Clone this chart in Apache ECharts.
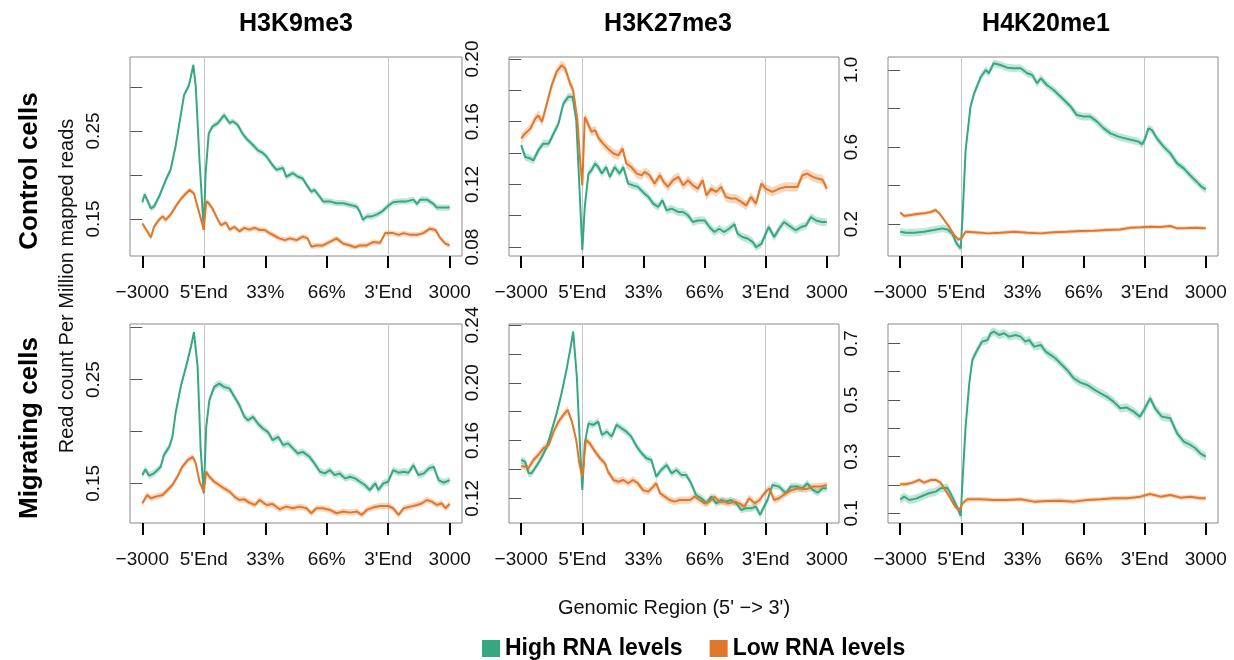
<!DOCTYPE html>
<html><head><meta charset="utf-8">
<script src="https://cdn.jsdelivr.net/npm/echarts@6/dist/echarts.min.js"></script>
<style>html,body{margin:0;padding:0;background:#fff}#c{width:1234px;height:660px}</style>
</head><body><div id="c"></div>
<script>
// ---------- labels ----------
const xTickValues = [0, 1, 2, 3, 4, 5];
const xTickLabels = ['\u22123000', "5'End", '33%', '66%', "3'End", '3000'];
const markNames = ['H3K9me3', 'H3K27me3', 'H4K20me1'];
const rowNames = ['Control cells', 'Migrating cells'];
const seriesNames = ['High RNA levels', 'Low RNA levels'];
const yAxisTitle = 'Read count Per Million mapped reads';
const xAxisTitle = "Genomic Region (5' \u2212> 3')";

// ---------- y axes (panel order: ctrl K9, ctrl K27, ctrl K20, mig K9, mig K27, mig K20) ----------
const yMin = [0.108, 0.0743, 0.034, 0.1118, 0.1029, 0.0658];
const yMax = [0.334, 0.2013, 1.0675, 0.3036, 0.2407, 0.768];
const yTicks = [
  [0.15, 0.20, 0.25, 0.30],
  [0.08, 0.10, 0.12, 0.14, 0.16, 0.18, 0.20],
  [0.2, 0.4, 0.6, 0.8, 1.0],
  [0.15, 0.20, 0.25, 0.30],
  [0.12, 0.14, 0.16, 0.18, 0.20, 0.22, 0.24],
  [0.1, 0.2, 0.3, 0.4, 0.5, 0.6, 0.7]
];
const yLabels = [
  [0.15, 0.25],
  [0.08, 0.12, 0.16, 0.20],
  [0.2, 0.6, 1.0],
  [0.15, 0.25],
  [0.12, 0.16, 0.20, 0.24],
  [0.1, 0.3, 0.5, 0.7]
];
const yDecimals = [2, 2, 1, 2, 2, 1];

// ---------- series data: [position, value] ----------
const ctrlK9High = [[0,.169],[.04,.178],[.14,.162],[.19,.164],[.27,.175],[.38,.194],[.46,.206],[.54,.232],[.63,.270],[.68,.291],[.76,.302],[.83,.325],[.87,.300],[.93,.217],[1.0,.1375],[1.03,.202],[1.08,.247],[1.14,.255],[1.23,.259],[1.33,.268],[1.42,.259],[1.47,.261],[1.55,.257],[1.63,.247],[1.71,.240],[1.80,.234],[1.88,.228],[1.96,.225],[2.02,.221],[2.10,.213],[2.18,.206],[2.29,.208],[2.34,.198],[2.45,.202],[2.53,.198],[2.61,.196],[2.67,.189],[2.75,.181],[2.80,.183],[2.89,.175],[2.94,.170],[3.05,.170],[3.16,.168],[3.27,.168],[3.38,.166],[3.49,.164],[3.54,.158],[3.59,.149],[3.65,.153],[3.73,.153],[3.81,.155],[3.89,.158],[4.0,.165],[4.08,.169],[4.19,.170],[4.30,.170],[4.41,.172],[4.47,.167],[4.52,.172],[4.63,.172],[4.74,.167],[4.79,.163],[4.90,.163],[5.0,.163]];
const ctrlK9Low = [[0,.145],[.08,.136],[.14,.129],[.19,.141],[.27,.149],[.33,.153],[.38,.149],[.46,.155],[.54,.164],[.63,.173],[.71,.179],[.77,.183],[.84,.179],[.93,.156],[1.0,.138],[1.04,.170],[1.08,.168],[1.14,.162],[1.23,.149],[1.28,.143],[1.36,.146],[1.42,.138],[1.50,.141],[1.58,.136],[1.66,.140],[1.74,.138],[1.83,.140],[1.91,.1375],[1.99,.1375],[2.07,.134],[2.15,.131],[2.23,.128],[2.32,.126],[2.40,.128],[2.51,.126],[2.61,.130],[2.69,.128],[2.75,.1186],[2.83,.120],[2.94,.120],[3.05,.124],[3.16,.128],[3.27,.122],[3.38,.120],[3.46,.118],[3.54,.120],[3.65,.120],[3.76,.124],[3.87,.123],[3.95,.134],[4.0,.134],[4.08,.134],[4.17,.132],[4.25,.134],[4.36,.132],[4.47,.132],[4.57,.134],[4.68,.139],[4.77,.1375],[4.85,.128],[4.93,.122],[5.0,.120]];

const ctrlK27High = [[0,.145],[.065,.1375],[.15,.1365],[.20,.1354],[.28,.1418],[.36,.146],[.45,.146],[.53,.1525],[.61,.1588],[.69,.1716],[.77,.1759],[.84,.1759],[.90,.161],[.95,.1205],[1.0,.078],[1.04,.1056],[1.10,.1269],[1.15,.129],[1.21,.1333],[1.26,.1311],[1.32,.1269],[1.39,.1311],[1.45,.1248],[1.53,.1311],[1.61,.1269],[1.67,.1311],[1.75,.1205],[1.83,.1194],[1.91,.1184],[1.99,.1152],[2.08,.112],[2.16,.1077],[2.24,.1056],[2.31,.1098],[2.38,.1034],[2.46,.1045],[2.57,.1024],[2.65,.1024],[2.73,.1002],[2.81,.096],[2.89,.097],[3.0,.097],[3.08,.0928],[3.16,.0896],[3.24,.0917],[3.32,.0896],[3.40,.0917],[3.49,.0945],[3.54,.0885],[3.62,.0864],[3.71,.0853],[3.79,.0832],[3.84,.080],[3.93,.0821],[4.0,.0885],[4.05,.0928],[4.14,.0864],[4.22,.0917],[4.30,.096],[4.38,.0938],[4.49,.0907],[4.58,.0928],[4.66,.0938],[4.74,.0992],[4.82,.097],[4.92,.096],[5.0,.096]];
const ctrlK27Low = [[0,.1493],[.065,.1525],[.15,.1556],[.23,.162],[.28,.164],[.34,.160],[.42,.1716],[.50,.1834],[.58,.1919],[.66,.196],[.72,.194],[.80,.1844],[.85,.180],[.92,.161],[.96,.1375],[1.0,.1194],[1.04,.163],[1.10,.158],[1.15,.1535],[1.21,.1546],[1.26,.150],[1.34,.146],[1.42,.1428],[1.51,.1397],[1.59,.1386],[1.66,.1428],[1.72,.1333],[1.80,.1311],[1.89,.1269],[1.97,.1258],[2.02,.128],[2.10,.1258],[2.18,.1205],[2.27,.1258],[2.33,.1216],[2.40,.1184],[2.48,.1226],[2.57,.1248],[2.65,.1194],[2.73,.1226],[2.81,.1194],[2.89,.1173],[2.97,.1226],[3.03,.113],[3.11,.1173],[3.19,.1152],[3.27,.1184],[3.35,.112],[3.43,.111],[3.51,.111],[3.60,.1088],[3.68,.1066],[3.76,.112],[3.84,.1077],[3.93,.1205],[4.0,.1173],[4.11,.1152],[4.22,.1173],[4.33,.1184],[4.43,.1184],[4.52,.1184],[4.60,.1258],[4.68,.1269],[4.77,.1248],[4.85,.1237],[4.93,.123],[5.0,.1173]];

const ctrlK20High = [[0,.160],[.09,.155],[.23,.155],[.39,.160],[.55,.169],[.69,.1775],[.77,.172],[.85,.1515],[.92,.0996],[.99,.0736],[1.02,.238],[1.07,.584],[1.15,.81],[1.21,.879],[1.32,.965],[1.40,1.0],[1.45,.983],[1.53,1.035],[1.64,1.026],[1.75,1.012],[1.86,1.009],[1.97,1.009],[2.08,.983],[2.16,.974],[2.24,.931],[2.30,.957],[2.40,.922],[2.51,.896],[2.65,.853],[2.79,.81],[2.89,.766],[3.0,.758],[3.11,.758],[3.22,.732],[3.33,.697],[3.44,.671],[3.57,.654],[3.68,.645],[3.79,.636],[3.90,.628],[3.96,.614],[4.01,.645],[4.06,.697],[4.12,.688],[4.20,.645],[4.31,.602],[4.42,.567],[4.53,.515],[4.64,.489],[4.74,.4545],[4.85,.42],[4.93,.394],[5.0,.380]];
const ctrlK20Low = [[0,.2606],[.065,.2416],[.17,.2468],[.28,.252],[.39,.2554],[.50,.2623],[.58,.2727],[.64,.2554],[.72,.2208],[.80,.186],[.88,.143],[.95,.120],[1.0,.1255],[1.07,.160],[1.21,.157],[1.43,.1515],[1.64,.155],[1.86,.160],[2.08,.155],[2.30,.1515],[2.51,.157],[2.73,.160],[2.95,.1636],[3.17,.1654],[3.38,.169],[3.60,.172],[3.76,.181],[3.93,.1827],[4.09,.186],[4.26,.184],[4.42,.1896],[4.53,.1775],[4.69,.179],[4.85,.181],[5.0,.1775]];

const migK9High = [[0,.158],[.05,.1635],[.11,.1574],[.19,.1596],[.30,.166],[.35,.1772],[.44,.1853],[.49,.1949],[.54,.2173],[.63,.2446],[.71,.2622],[.79,.2814],[.84,.2958],[.90,.2622],[.95,.182],[1.0,.1404],[1.04,.2045],[1.09,.230],[1.17,.243],[1.25,.2462],[1.33,.243],[1.42,.2413],[1.50,.2333],[1.58,.2253],[1.66,.2141],[1.72,.2109],[1.80,.2141],[1.88,.2077],[1.96,.2029],[2.04,.1997],[2.12,.1917],[2.21,.1949],[2.29,.1869],[2.37,.1885],[2.45,.1837],[2.53,.1788],[2.61,.1804],[2.72,.1756],[2.80,.1692],[2.89,.1612],[2.97,.1596],[3.05,.1628],[3.13,.158],[3.21,.1596],[3.30,.1548],[3.38,.1564],[3.46,.1548],[3.54,.1516],[3.62,.1484],[3.70,.1436],[3.79,.150],[3.84,.1436],[3.92,.150],[4.0,.1516],[4.08,.1628],[4.17,.1603],[4.25,.1612],[4.33,.1603],[4.41,.1676],[4.49,.158],[4.58,.1596],[4.66,.1644],[4.74,.166],[4.82,.1532],[4.90,.1506],[5.0,.1532]];
const migK9Low = [[0,.1308],[.08,.1388],[.14,.1356],[.22,.1372],[.33,.1388],[.41,.1436],[.49,.1484],[.57,.1564],[.65,.166],[.74,.1724],[.82,.1756],[.87,.1692],[.93,.1516],[1.0,.142],[1.04,.1612],[1.09,.1564],[1.17,.1516],[1.25,.1484],[1.33,.1452],[1.42,.142],[1.50,.1372],[1.58,.134],[1.66,.1346],[1.74,.1314],[1.83,.1292],[1.91,.134],[2.02,.1292],[2.12,.1301],[2.23,.125],[2.34,.1276],[2.45,.126],[2.56,.1276],[2.67,.126],[2.75,.1212],[2.83,.126],[2.94,.126],[3.05,.1244],[3.16,.1212],[3.27,.1228],[3.38,.1218],[3.49,.1228],[3.57,.1196],[3.65,.1244],[3.76,.1269],[3.87,.1282],[4.0,.1282],[4.08,.126],[4.17,.1196],[4.25,.126],[4.36,.1276],[4.47,.1292],[4.55,.1308],[4.63,.134],[4.71,.1324],[4.79,.1292],[4.87,.1308],[4.93,.126],[5.0,.1301]];

const migK27High = [[0,.1465],[.065,.1454],[.12,.1373],[.17,.1373],[.26,.1431],[.34,.1488],[.42,.1558],[.50,.1673],[.58,.1788],[.66,.1927],[.74,.2088],[.81,.225],[.85,.2354],[.91,.2042],[.96,.158],[1.0,.1258],[1.04,.158],[1.10,.1719],[1.18,.1708],[1.26,.1731],[1.32,.1638],[1.40,.1662],[1.48,.1627],[1.56,.1708],[1.64,.1685],[1.72,.1662],[1.80,.1627],[1.89,.1558],[1.97,.1512],[2.05,.1477],[2.13,.1465],[2.21,.135],[2.29,.1396],[2.38,.1431],[2.46,.1373],[2.54,.1396],[2.62,.1362],[2.70,.1362],[2.78,.1304],[2.86,.1223],[2.95,.120],[3.03,.1165],[3.11,.1212],[3.19,.1165],[3.27,.1188],[3.35,.1177],[3.43,.1188],[3.52,.1165],[3.60,.1119],[3.68,.1131],[3.76,.1131],[3.84,.1142],[3.91,.1085],[3.96,.1131],[4.03,.1188],[4.11,.1292],[4.22,.1281],[4.33,.1235],[4.41,.1281],[4.52,.1281],[4.60,.1269],[4.68,.1304],[4.77,.1258],[4.85,.1239],[4.93,.1269],[5.0,.1269]];
const migK27Low = [[0,.1424],[.065,.1419],[.12,.1408],[.20,.1465],[.28,.150],[.36,.1546],[.45,.1569],[.53,.1662],[.61,.1731],[.69,.1777],[.76,.1812],[.83,.1731],[.90,.1604],[.95,.1442],[1.0,.135],[1.06,.1604],[1.12,.1581],[1.21,.1523],[1.29,.1477],[1.37,.1442],[1.42,.1385],[1.51,.1327],[1.59,.1315],[1.67,.1327],[1.75,.1304],[1.83,.1327],[1.91,.1304],[1.99,.1258],[2.08,.1246],[2.16,.1281],[2.21,.1304],[2.27,.1235],[2.35,.1212],[2.43,.1188],[2.51,.1177],[2.59,.1188],[2.67,.1188],[2.76,.1188],[2.84,.1212],[2.92,.1188],[3.0,.1165],[3.08,.1177],[3.16,.1212],[3.24,.1177],[3.32,.1177],[3.40,.1165],[3.49,.1177],[3.57,.1165],[3.65,.1142],[3.73,.120],[3.82,.1165],[3.90,.1188],[3.98,.1235],[4.06,.1269],[4.14,.1188],[4.22,.120],[4.33,.1235],[4.43,.1258],[4.54,.1269],[4.66,.1262],[4.77,.1281],[4.88,.1281],[5.0,.1292]];

const migK20High = [[0,.1494],[.065,.1588],[.15,.147],[.26,.1518],[.36,.1612],[.47,.1706],[.58,.1765],[.66,.1882],[.77,.1906],[.85,.1588],[.94,.1176],[.99,.0906],[1.02,.2176],[1.07,.4059],[1.13,.5588],[1.18,.6412],[1.26,.6765],[1.34,.7059],[1.43,.7118],[1.48,.7353],[1.53,.7412],[1.62,.7294],[1.70,.7353],[1.78,.7235],[1.89,.7294],[1.97,.7235],[2.05,.7059],[2.11,.7118],[2.19,.6882],[2.30,.6941],[2.38,.6706],[2.46,.6588],[2.54,.647],[2.62,.6294],[2.73,.6059],[2.84,.5765],[2.95,.5612],[3.06,.553],[3.17,.5376],[3.28,.5235],[3.38,.5118],[3.49,.4941],[3.60,.4706],[3.71,.473],[3.82,.4588],[3.92,.4412],[3.99,.4647],[4.09,.5059],[4.17,.4706],[4.28,.4412],[4.42,.4353],[4.53,.3824],[4.64,.3529],[4.75,.3412],[4.83,.3294],[4.91,.3118],[5.0,.300]];
const migK20Low = [[0,.2024],[.09,.2024],[.20,.2082],[.31,.2176],[.39,.2082],[.50,.2176],[.58,.2176],[.66,.2082],[.74,.1824],[.82,.1529],[.90,.1235],[.97,.1118],[1.02,.1353],[1.10,.1494],[1.32,.1494],[1.53,.147],[1.75,.147],[1.97,.1494],[2.19,.1412],[2.40,.1435],[2.62,.1447],[2.84,.1412],[3.06,.147],[3.28,.1494],[3.49,.1529],[3.71,.1529],[3.93,.1588],[4.09,.1682],[4.26,.1588],[4.42,.1647],[4.59,.1553],[4.75,.1588],[4.91,.1529],[5.0,.1529]];

// band half-widths (read from the shaded ribbons): [high, low] per panel
const bandHalf = [[.0035,.003],[.0025,.003],[.02,.01],[.0035,.003],[.0025,.0025],[.015,.008]];

const panelHigh = [ctrlK9High, ctrlK27High, ctrlK20High, migK9High, migK27High, migK20High];
const panelLow = [ctrlK9Low, ctrlK27Low, ctrlK20Low, migK9Low, migK27Low, migK20Low];

// ---------- layout / style ----------
const FONT = 'Liberation Sans';
const GREEN = '#35a882', ORANGE = '#e0772a';
const GREEN_BAND = 'rgba(53,168,130,0.30)', ORANGE_BAND = 'rgba(224,119,42,0.30)';
const colLeft = [130, 509, 888], colWidth = [332, 330, 330];
const rowTop = [57, 324], plotH = 199;

function bandSeries(pts, se, gi, fill, withMarks) {
  const s = {
    type: 'custom', name: 'band', xAxisIndex: gi, yAxisIndex: gi, silent: true, z: 1,
    data: [[pts[0][0], pts[0][1]]],
    renderItem: function (params, api) {
      const upper = pts.map(p => api.coord([p[0], p[1] + se]));
      const lower = pts.slice().reverse().map(p => api.coord([p[0], p[1] - se]));
      return {type: 'polygon', shape: {points: upper.concat(lower)}, style: {fill: fill}};
    }
  };
  return s;
}

const grids = [], xAxes = [], yAxes = [], series = [];
for (let i = 0; i < 6; i++) {
  const r = Math.floor(i / 3), c = i % 3;
  grids.push({left: colLeft[c], top: rowTop[r], width: colWidth[c], height: plotH,
    show: true, borderColor: '#8a8a8a', borderWidth: 1, backgroundColor: 'transparent', containLabel: false});
  xAxes.push({type: 'value', gridIndex: i, min: -0.2, max: 5.2,
    axisLine: {show: false}, splitLine: {show: false},
    axisTick: {show: true, customValues: xTickValues, length: 12, lineStyle: {color: '#000', width: 2}},
    axisLabel: {customValues: xTickValues, formatter: v => xTickLabels[Math.round(v)],
      fontSize: 19, color: '#111', fontFamily: FONT, margin: 27}});
  const dec = yDecimals[i];
  yAxes.push({type: 'value', gridIndex: i, min: yMin[i], max: yMax[i],
    axisLine: {show: false}, splitLine: {show: false},
    axisTick: {show: true, customValues: yTicks[i], length: 12, lineStyle: {color: '#555', width: 1}},
    axisLabel: {customValues: yLabels[i], rotate: 90, margin: 27, fontSize: 19, color: '#111',
      fontFamily: FONT, formatter: v => v.toFixed(dec)}});

  series.push(bandSeries(panelHigh[i], bandHalf[i][0], i, GREEN_BAND));
  series.push(bandSeries(panelLow[i], bandHalf[i][1], i, ORANGE_BAND));
  series.push({type: 'line', name: seriesNames[0], xAxisIndex: i, yAxisIndex: i, data: panelHigh[i],
    color: GREEN, showSymbol: false, symbol: 'none', lineStyle: {color: GREEN, width: 2}, z: 3,
    markLine: {silent: true, symbol: 'none', label: {show: false}, z: 0,
      lineStyle: {color: '#c6c6c6', width: 1, type: 'solid'}, data: [{xAxis: 1}, {xAxis: 4}]}});
  series.push({type: 'line', name: seriesNames[1], xAxisIndex: i, yAxisIndex: i, data: panelLow[i],
    color: ORANGE, showSymbol: false, symbol: 'none', lineStyle: {color: ORANGE, width: 2}, z: 3});
}

const titleX = [296, 668, 1046];
const graphics = [];
markNames.forEach((t, c) => graphics.push({type: 'text', x: titleX[c], y: 24,
  style: {text: t, font: 'bold 25px "' + FONT + '"', fill: '#000', align: 'center', verticalAlign: 'middle'}}));
const rowY = [171, 428];
rowNames.forEach((t, r) => graphics.push({type: 'text', x: 30, y: rowY[r], rotation: Math.PI / 2,
  style: {text: t, font: 'bold 26px "' + FONT + '"', fill: '#000', align: 'center', verticalAlign: 'middle'}}));
graphics.push({type: 'text', x: 67, y: 286, rotation: Math.PI / 2,
  style: {text: yAxisTitle, font: '20px "' + FONT + '"', fill: '#111', align: 'center', verticalAlign: 'middle'}});
graphics.push({type: 'text', x: 674, y: 608,
  style: {text: xAxisTitle, font: '20px "' + FONT + '"', fill: '#111', align: 'center', verticalAlign: 'middle'}});

const chart = echarts.init(document.getElementById('c'), null, {renderer: 'canvas'});
chart.setOption({
  animation: false,
  backgroundColor: '#fff',
  grid: grids, xAxis: xAxes, yAxis: yAxes, series: series,
  graphic: graphics,
  legend: {data: seriesNames, left: 477, top: 632, icon: 'rect', itemWidth: 18, itemHeight: 17, itemGap: 27,
    selectedMode: false,
    textStyle: {fontSize: 23, fontWeight: 'bold', color: '#000', fontFamily: FONT}}
});
</script></body></html>
